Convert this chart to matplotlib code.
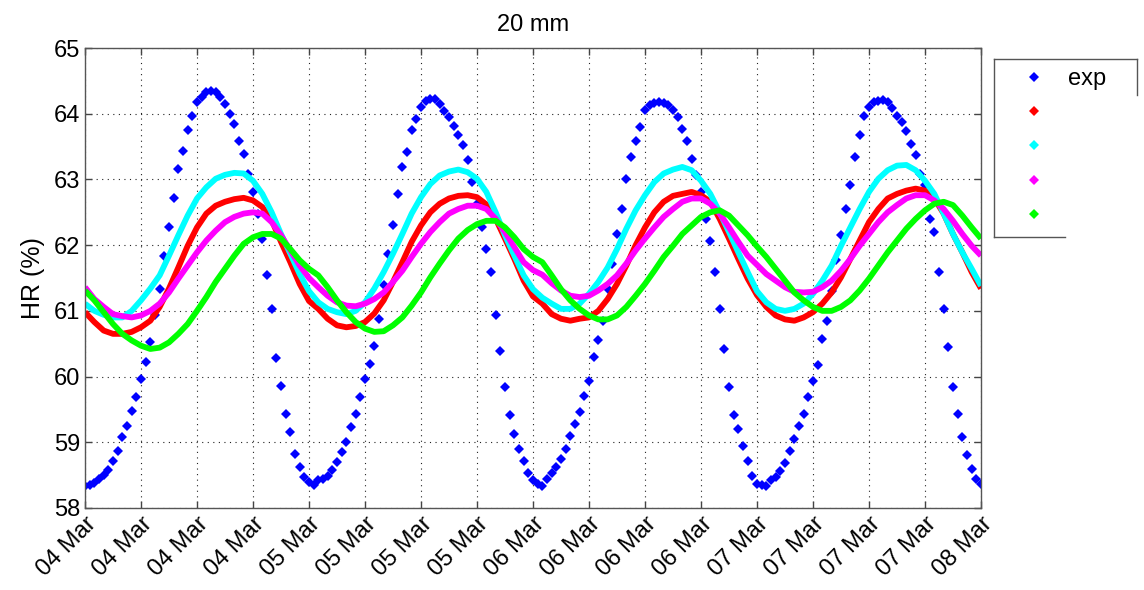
import datetime as dt
import numpy as np
import matplotlib
matplotlib.use("Agg")
import matplotlib.pyplot as plt
import matplotlib.dates as mdates
from matplotlib.lines import Line2D

plt.rcParams['font.family'] = ['Liberation Sans', 'DejaVu Sans']

# HR (%) au capteur 20 mm, du 04 Mar 00h au 08 Mar 00h
# mesures (exp) toutes les 30 min
exp = [
    58.34, 58.35, 58.38, 58.44, 58.50, 58.58, 58.72, 58.87, 59.08, 59.25, 59.48, 59.69,
    59.96, 60.22, 60.52, 60.93, 61.33, 61.84, 62.27, 62.71, 63.16, 63.44, 63.75, 63.97,
    64.18, 64.25, 64.33, 64.34, 64.33, 64.25, 64.15, 64.00, 63.85, 63.59, 63.39, 63.09,
    62.81, 62.48, 62.10, 61.54, 61.03, 60.29, 59.86, 59.43, 59.15, 58.82, 58.62, 58.47,
    58.40, 58.35, 58.42, 58.44, 58.49, 58.58, 58.70, 58.85, 59.00, 59.23, 59.43, 59.69,
    59.96, 60.19, 60.47, 60.88, 61.39, 61.86, 62.30, 62.78, 63.19, 63.42, 63.75, 63.92,
    64.10, 64.20, 64.23, 64.22, 64.15, 64.04, 63.95, 63.81, 63.67, 63.52, 63.29, 62.96,
    62.63, 62.27, 61.94, 61.59, 60.93, 60.39, 59.84, 59.41, 59.13, 58.90, 58.72, 58.54,
    58.42, 58.37, 58.34, 58.44, 58.54, 58.63, 58.74, 58.90, 59.10, 59.28, 59.46, 59.71,
    59.94, 60.30, 60.55, 60.85, 61.33, 61.72, 62.17, 62.55, 63.01, 63.34, 63.59, 63.80,
    64.05, 64.13, 64.17, 64.18, 64.17, 64.13, 64.05, 63.95, 63.77, 63.59, 63.31, 63.06,
    62.81, 62.40, 62.07, 61.59, 61.03, 60.42, 59.84, 59.41, 59.20, 58.95, 58.72, 58.49,
    58.37, 58.35, 58.33, 58.42, 58.47, 58.57, 58.68, 58.87, 59.05, 59.25, 59.43, 59.69,
    59.94, 60.17, 60.57, 60.85, 61.30, 61.77, 62.15, 62.55, 62.91, 63.34, 63.67, 63.97,
    64.10, 64.18, 64.20, 64.21, 64.18, 64.09, 63.97, 63.87, 63.73, 63.54, 63.37, 63.09,
    62.91, 62.40, 62.20, 61.59, 61.03, 60.45, 59.84, 59.43, 59.08, 58.80, 58.60, 58.44,
    58.37,
]

# simulations, valeurs horaires
sim_rouge = [
    60.98, 60.83, 60.70, 60.65, 60.65, 60.68, 60.75, 60.85, 61.06, 61.34, 61.66, 61.99,
    62.27, 62.48, 62.60, 62.66, 62.70, 62.72, 62.68, 62.58, 62.38, 62.05, 61.74, 61.41,
    61.15, 61.03, 60.88, 60.78, 60.75, 60.77, 60.83, 60.96, 61.16, 61.44, 61.74, 62.05,
    62.30, 62.50, 62.63, 62.71, 62.75, 62.76, 62.73, 62.62, 62.40, 62.10, 61.79, 61.46,
    61.22, 61.11, 60.95, 60.88, 60.85, 60.88, 60.90, 61.00, 61.18, 61.41, 61.69, 62.00,
    62.27, 62.50, 62.66, 62.75, 62.78, 62.81, 62.76, 62.66, 62.40, 62.10, 61.79, 61.49,
    61.24, 61.06, 60.93, 60.87, 60.85, 60.90, 60.98, 61.11, 61.28, 61.51, 61.79, 62.07,
    62.35, 62.55, 62.71, 62.78, 62.83, 62.86, 62.83, 62.71, 62.48, 62.17, 61.89, 61.59,
    61.34,
]
sim_cyan = [
    61.11, 61.00, 60.94, 60.90, 60.90, 61.00, 61.16, 61.34, 61.54, 61.84, 62.15, 62.45,
    62.71, 62.88, 63.01, 63.07, 63.10, 63.09, 62.98, 62.78, 62.50, 62.17, 61.87, 61.56,
    61.30, 61.13, 61.03, 60.98, 60.95, 61.00, 61.13, 61.34, 61.59, 61.87, 62.17, 62.48,
    62.73, 62.93, 63.06, 63.12, 63.15, 63.11, 63.01, 62.81, 62.50, 62.15, 61.84, 61.54,
    61.33, 61.20, 61.11, 61.03, 61.03, 61.11, 61.26, 61.44, 61.66, 61.94, 62.25, 62.53,
    62.76, 62.96, 63.09, 63.15, 63.19, 63.14, 62.98, 62.78, 62.50, 62.20, 61.89, 61.59,
    61.30, 61.13, 61.03, 61.00, 61.03, 61.11, 61.26, 61.46, 61.69, 61.99, 62.27, 62.55,
    62.81, 63.01, 63.14, 63.21, 63.22, 63.14, 62.98, 62.78, 62.48, 62.17, 61.89, 61.64,
    61.38,
]
sim_magenta = [
    61.36, 61.18, 61.06, 60.95, 60.92, 60.90, 60.93, 61.00, 61.11, 61.28, 61.49, 61.69,
    61.89, 62.07, 62.22, 62.35, 62.43, 62.48, 62.50, 62.48, 62.35, 62.15, 61.92, 61.69,
    61.50, 61.36, 61.23, 61.13, 61.08, 61.07, 61.11, 61.18, 61.28, 61.44, 61.61, 61.82,
    62.02, 62.20, 62.35, 62.48, 62.55, 62.60, 62.60, 62.55, 62.40, 62.20, 61.97, 61.74,
    61.62, 61.55, 61.42, 61.31, 61.23, 61.21, 61.23, 61.31, 61.41, 61.54, 61.72, 61.92,
    62.10, 62.27, 62.43, 62.55, 62.66, 62.71, 62.71, 62.63, 62.48, 62.27, 62.05, 61.84,
    61.70, 61.56, 61.46, 61.36, 61.29, 61.28, 61.29, 61.36, 61.46, 61.61, 61.79, 61.99,
    62.17, 62.35, 62.50, 62.61, 62.71, 62.76, 62.76, 62.68, 62.55, 62.37, 62.17, 61.99,
    61.84,
]
sim_vert = [
    61.31, 61.16, 60.98, 60.80, 60.65, 60.55, 60.47, 60.42, 60.44, 60.52, 60.65, 60.80,
    61.00, 61.21, 61.44, 61.64, 61.84, 62.02, 62.12, 62.17, 62.17, 62.10, 61.94, 61.77,
    61.64, 61.54, 61.36, 61.16, 60.98, 60.83, 60.73, 60.68, 60.69, 60.78, 60.90, 61.08,
    61.28, 61.51, 61.72, 61.92, 62.10, 62.23, 62.32, 62.37, 62.37, 62.27, 62.12, 61.94,
    61.82, 61.74, 61.54, 61.33, 61.16, 61.03, 60.93, 60.87, 60.87, 60.93, 61.06, 61.23,
    61.41, 61.61, 61.82, 61.99, 62.17, 62.30, 62.43, 62.50, 62.53, 62.45, 62.30, 62.15,
    61.98, 61.82, 61.64, 61.46, 61.28, 61.16, 61.06, 61.00, 61.00, 61.06, 61.16, 61.31,
    61.49, 61.69, 61.89, 62.07, 62.25, 62.40, 62.53, 62.63, 62.66, 62.61, 62.45, 62.27,
    62.10,
]

legende = ['exp', '', '', '', '']
couleurs = ['#0000ff', '#ff0000', '#00ffff', '#ff00ff', '#00ff00']

debut = dt.datetime(2014, 3, 4)
t_exp = [debut + dt.timedelta(hours=0.5 * i) for i in range(len(exp))]
t_sim = [debut + dt.timedelta(hours=i) for i in range(len(sim_rouge))]

fig = plt.figure(figsize=(11.44, 5.90), dpi=100)
ax = fig.add_axes([85 / 1144, 1 - 508 / 590, 896 / 1144, 460 / 590])

ax.plot(t_exp, exp, 'D', color=couleurs[0], ms=4.6, mew=0)
for serie, c in zip([sim_rouge, sim_cyan, sim_magenta, sim_vert], couleurs[1:]):
    ax.plot(t_sim, serie, '-', color=c, lw=4.2, solid_capstyle='butt')

ax.set_xlim(debut, debut + dt.timedelta(days=4))
ax.set_ylim(58, 65)
ax.xaxis.set_major_locator(mdates.HourLocator(byhour=[0, 6, 12, 18]))
ax.xaxis.set_major_formatter(mdates.DateFormatter('%d %b'))
ax.set_yticks(range(58, 66))

ax.grid(True, linestyle=(0, (1, 4)), color='#222222', lw=0.8)
ax.tick_params(direction='in', length=5, width=1, top=True, right=True,
               labelsize=17, colors='#444444', labelcolor='black')
for s in ax.spines.values():
    s.set_color('#555555')
    s.set_linewidth(1)
plt.setp(ax.get_xticklabels(), rotation=45, ha='right', va='top', rotation_mode='anchor')

ax.set_ylabel('HR (%)', fontsize=18, labelpad=6)
ax.set_title('20 mm', fontsize=17, pad=12)

# legende
poignees = [Line2D([], [], ls='none', marker='D', ms=4.6, mew=0, color=c) for c in couleurs]
leg = ax.legend(poignees, legende, loc='upper left', bbox_to_anchor=(1010 / 1144, 1 - 68 / 590),
                bbox_transform=fig.transFigure, frameon=False, fontsize=17, borderpad=0,
                borderaxespad=0, handlelength=2, handletextpad=0.45, labelspacing=0.52)

# cadre de la legende (tronque comme dans l'original)
def trait(x0, y0, x1, y1):
    fig.add_artist(Line2D([x0 / 1144, x1 / 1144], [1 - y0 / 590, 1 - y1 / 590],
                          color='#555555', lw=1, transform=fig.transFigure))

trait(994, 59, 1137, 59)
trait(994, 59, 994, 237)
trait(1137, 59, 1137, 95)
trait(994, 237, 1065, 237)

fig.savefig('out.png', dpi=100)
